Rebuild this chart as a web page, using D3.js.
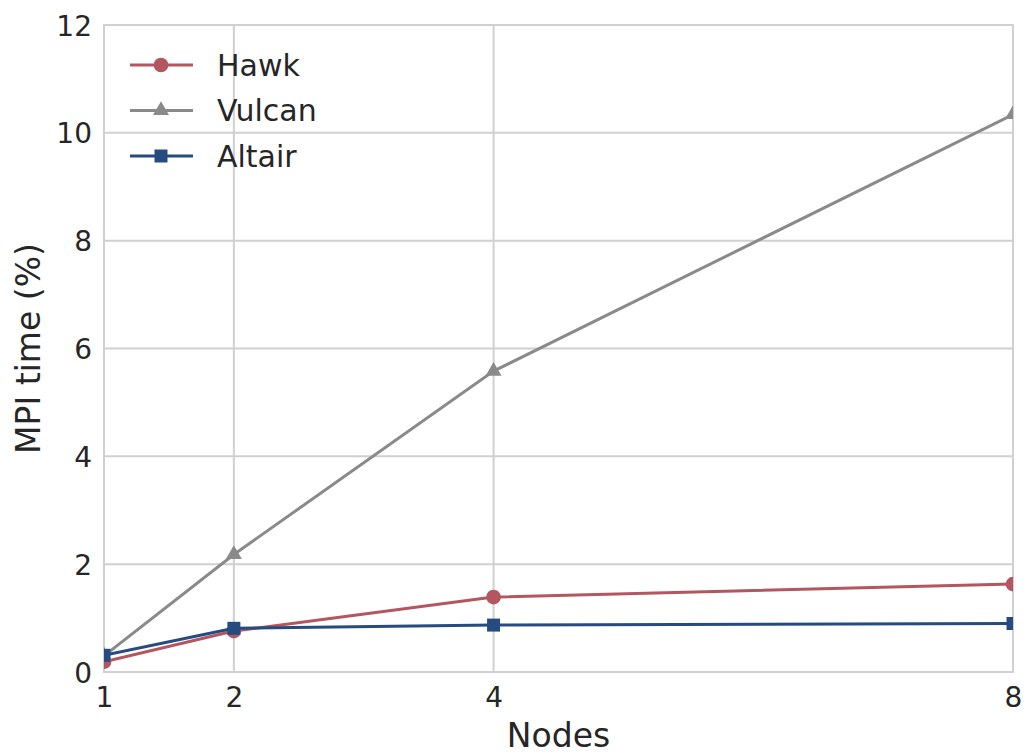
<!DOCTYPE html>
<html>
<head>
<meta charset="utf-8">
<script src="https://cdn.jsdelivr.net/npm/d3@7"></script>
<style>
	body { margin: 0; background: #fff; }
	text { font-family: 'DejaVu Sans', sans-serif; fill: #262626; }
</style>
</head>
<body>
<script>
var nodes = [1, 2, 4, 8];
var hawk = [0.19, 0.76, 1.39, 1.63];
var vulcan = [0.3, 2.18, 5.58, 10.34];
var altair = [0.31, 0.81, 0.87, 0.9];
var yTicks = [0, 2, 4, 6, 8, 10, 12];

var series = [
	{ name: 'Hawk', values: hawk, color: '#b3565f', symbol: d3.symbolCircle, size: 170 },
	{ name: 'Vulcan', values: vulcan, color: '#8a8a8a', symbol: d3.symbolTriangle, size: 110 },
	{ name: 'Altair', values: altair, color: '#264b80', symbol: d3.symbolSquare, size: 169 }
];

var width = 1026, height = 755;
var margin = { top: 25, right: 13, bottom: 83, left: 104 };

var svg = d3.select('body').append('svg')
	.attr('width', width)
	.attr('height', height);

var x = d3.scaleLinear()
	.domain([1, 8])
	.range([margin.left, width - margin.right]);

var y = d3.scaleLinear()
	.domain([0, 12])
	.range([height - margin.bottom, margin.top]);

// grid
svg.append('g')
	.selectAll('line')
	.data(yTicks)
	.enter().append('line')
	.attr('x1', margin.left)
	.attr('x2', width - margin.right)
	.attr('y1', function(d) { return y(d); })
	.attr('y2', function(d) { return y(d); })
	.attr('stroke', '#d0d0d0')
	.attr('stroke-width', 2);

svg.append('g')
	.selectAll('line')
	.data(nodes)
	.enter().append('line')
	.attr('x1', function(d) { return x(d); })
	.attr('x2', function(d) { return x(d); })
	.attr('y1', margin.top)
	.attr('y2', height - margin.bottom)
	.attr('stroke', '#d0d0d0')
	.attr('stroke-width', 2);

svg.append('rect')
	.attr('x', margin.left)
	.attr('y', margin.top)
	.attr('width', width - margin.left - margin.right)
	.attr('height', height - margin.top - margin.bottom)
	.attr('fill', 'none')
	.attr('stroke', '#d0d0d0')
	.attr('stroke-width', 2);

// axes
var xAxis = svg.append('g')
	.attr('transform', 'translate(0,' + (height - margin.bottom) + ')')
	.call(d3.axisBottom(x).tickValues(nodes).tickSize(0).tickPadding(15).tickFormat(d3.format('d')));

var yAxis = svg.append('g')
	.attr('transform', 'translate(' + margin.left + ',0)')
	.call(d3.axisLeft(y).tickValues(yTicks).tickSize(0).tickPadding(12).tickFormat(d3.format('d')));

[xAxis, yAxis].forEach(function(a) {
	a.select('.domain').remove();
	a.selectAll('text').style('font-size', '28px').attr('fill', '#262626');
});
yAxis.selectAll('text').attr('dy', '0.36em');

svg.append('text')
	.attr('x', (margin.left + width - margin.right) / 2)
	.attr('y', 747)
	.attr('text-anchor', 'middle')
	.style('font-size', '33px')
	.text('Nodes');

svg.append('text')
	.attr('transform', 'translate(40,' + (margin.top + height - margin.bottom) / 2 + ')rotate(-90)')
	.attr('text-anchor', 'middle')
	.style('font-size', '33px')
	.text('MPI time (%)');

// lines
svg.append('clipPath')
	.attr('id', 'plot')
	.append('rect')
	.attr('x', margin.left)
	.attr('y', margin.top)
	.attr('width', width - margin.left - margin.right)
	.attr('height', height - margin.top - margin.bottom);

var line = d3.line()
	.x(function(d, i) { return x(nodes[i]); })
	.y(function(d) { return y(d); });

var plot = svg.append('g').attr('clip-path', 'url(#plot)');

series.forEach(function(s) {
	plot.append('path')
		.datum(s.values)
		.attr('d', line)
		.attr('fill', 'none')
		.attr('stroke', s.color)
		.attr('stroke-width', 3);

	plot.selectAll(null)
		.data(s.values)
		.enter().append('path')
		.attr('d', d3.symbol().type(s.symbol).size(s.size))
		.attr('transform', function(d, i) {
			return 'translate(' + x(nodes[i]) + ',' + y(d) + ')';
		})
		.attr('fill', s.color);
});

// legend
var legend = svg.append('g');
series.forEach(function(s, i) {
	var ly = 65 + i * 45.5;
	legend.append('line')
		.attr('x1', 130)
		.attr('x2', 193)
		.attr('y1', ly)
		.attr('y2', ly)
		.attr('stroke', s.color)
		.attr('stroke-width', 3);
	legend.append('path')
		.attr('d', d3.symbol().type(s.symbol).size(s.size))
		.attr('transform', 'translate(161,' + ly + ')')
		.attr('fill', s.color);
	legend.append('text')
		.attr('x', 217)
		.attr('y', ly)
		.attr('dy', '0.36em')
		.style('font-size', '30px')
		.text(s.name);
});
</script>
</body>
</html>
